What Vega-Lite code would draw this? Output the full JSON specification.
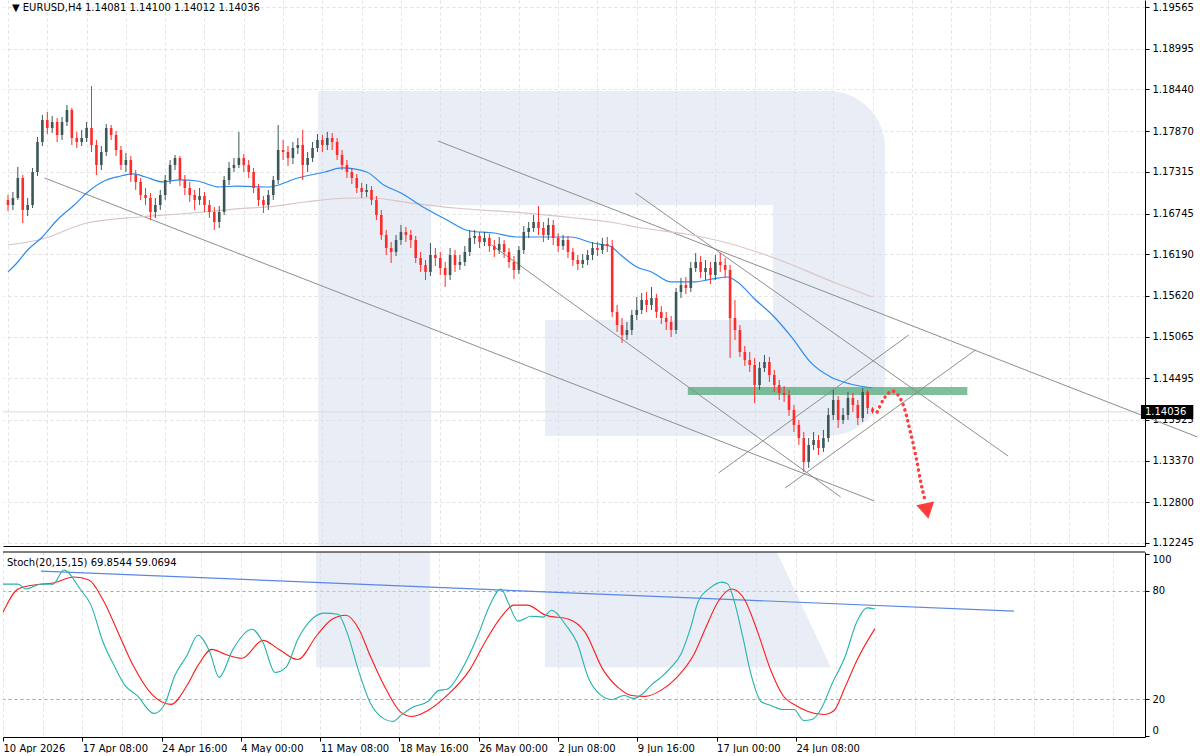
{
  "$schema": "https://vega.github.io/schema/vega-lite/v6.json",
  "padding": 0,
  "background": "white",
  "spacing": 3,
  "config": {
    "view": {"stroke": null},
    "axis": {"labelFont": "DejaVu Sans", "labelFontSize": 10, "labelColor": "#000", "domainColor": "#000", "tickColor": "#000", "gridColor": "#e2e2e2", "gridDash": [3, 3], "labelOverlap": false, "labelBound": false},
    "text": {"font": "DejaVu Sans", "fontSize": 10}
  },
  "datasets": {
    "wm": [
      {"part": "top", "x": 126.3, "x2": 357.1, "y": 1.18418, "y2": 1.16861},
      {"part": "mid", "x": 126.3, "x2": 172.3, "y": 1.16861, "y2": 1.12204},
      {"part": "mid", "x": 311.5, "x2": 357.1, "y": 1.16861, "y2": 1.15291},
      {"part": "bot", "x": 218.7, "x2": 357.1, "y": 1.15291, "y2": 1.13706}
    ],
    "wm2": [{"x": 126.3, "x2": 172.3, "y": 37.7, "y2": 101.3}],
    "leg": [{"v": 37.7, "x": 218.7, "x2": 334.1}, {"v": 101.3, "x": 218.7, "x2": 312.3}],
    "trend": [
      {"x": 14.9, "y": 1.1723, "x2": 352.7, "y2": 1.12819},
      {"x": 175.1, "y": 1.17735, "x2": 484.3, "y2": 1.13693},
      {"x": 255.4, "y": 1.17025, "x2": 407.2, "y2": 1.13433},
      {"x": 196.9, "y": 1.16315, "x2": 339.0, "y2": 1.12874},
      {"x": 289.3, "y": 1.13201, "x2": 366.8, "y2": 1.15086},
      {"x": 316.4, "y": 1.12996, "x2": 393.9, "y2": 1.14881}
    ],
    "arrow": [
      {"i": 353.9, "p": 1.14034}, {"i": 357.1, "p": 1.14239}, {"i": 360.0, "p": 1.14321},
      {"i": 362.4, "p": 1.14266}, {"i": 364.8, "p": 1.14103}, {"i": 367.2, "p": 1.13789},
      {"i": 369.7, "p": 1.1342}, {"i": 371.7, "p": 1.13065}, {"i": 373.3, "p": 1.12833}
    ],
    "ma": [
      {"s": "fast", "i": 0, "p": 1.15947}, {"s": "fast", "i": 4, "p": 1.16083}, {"s": "fast", "i": 8, "p": 1.16247},
      {"s": "fast", "i": 14, "p": 1.16424}, {"s": "fast", "i": 20, "p": 1.16656}, {"s": "fast", "i": 27, "p": 1.16861},
      {"s": "fast", "i": 32, "p": 1.17025}, {"s": "fast", "i": 40, "p": 1.17203}, {"s": "fast", "i": 46, "p": 1.17257},
      {"s": "fast", "i": 51, "p": 1.17285}, {"s": "fast", "i": 56, "p": 1.17244}, {"s": "fast", "i": 63, "p": 1.17176},
      {"s": "fast", "i": 70, "p": 1.17203}, {"s": "fast", "i": 77, "p": 1.17189}, {"s": "fast", "i": 86, "p": 1.17107},
      {"s": "fast", "i": 93, "p": 1.1712}, {"s": "fast", "i": 106, "p": 1.17107}, {"s": "fast", "i": 118, "p": 1.1723},
      {"s": "fast", "i": 129, "p": 1.17312}, {"s": "fast", "i": 136, "p": 1.17367}, {"s": "fast", "i": 146, "p": 1.17312},
      {"s": "fast", "i": 153, "p": 1.17134}, {"s": "fast", "i": 160, "p": 1.17025}, {"s": "fast", "i": 169, "p": 1.16834},
      {"s": "fast", "i": 178, "p": 1.1667}, {"s": "fast", "i": 188, "p": 1.16506}, {"s": "fast", "i": 198, "p": 1.16479},
      {"s": "fast", "i": 207, "p": 1.16424}, {"s": "fast", "i": 218, "p": 1.16424}, {"s": "fast", "i": 229, "p": 1.16424},
      {"s": "fast", "i": 238, "p": 1.16342}, {"s": "fast", "i": 245, "p": 1.16301}, {"s": "fast", "i": 250, "p": 1.16164},
      {"s": "fast", "i": 256, "p": 1.16015}, {"s": "fast", "i": 262, "p": 1.15947}, {"s": "fast", "i": 270, "p": 1.1581},
      {"s": "fast", "i": 279, "p": 1.1581}, {"s": "fast", "i": 287, "p": 1.15851}, {"s": "fast", "i": 293, "p": 1.15878},
      {"s": "fast", "i": 297, "p": 1.1581}, {"s": "fast", "i": 304, "p": 1.15577}, {"s": "fast", "i": 312, "p": 1.15332},
      {"s": "fast", "i": 319, "p": 1.15059}, {"s": "fast", "i": 327, "p": 1.14704}, {"s": "fast", "i": 335, "p": 1.14512},
      {"s": "fast", "i": 343, "p": 1.14417}, {"s": "fast", "i": 352, "p": 1.14362},
      {"s": "slow", "i": 0, "p": 1.16315}, {"s": "slow", "i": 14, "p": 1.16397}, {"s": "slow", "i": 32, "p": 1.16615},
      {"s": "slow", "i": 54, "p": 1.16697}, {"s": "slow", "i": 75, "p": 1.16752}, {"s": "slow", "i": 93, "p": 1.16807},
      {"s": "slow", "i": 109, "p": 1.16847}, {"s": "slow", "i": 121, "p": 1.16902}, {"s": "slow", "i": 140, "p": 1.16957},
      {"s": "slow", "i": 148, "p": 1.16957}, {"s": "slow", "i": 164, "p": 1.16888}, {"s": "slow", "i": 182, "p": 1.1682},
      {"s": "slow", "i": 205, "p": 1.16766}, {"s": "slow", "i": 231, "p": 1.16684}, {"s": "slow", "i": 245, "p": 1.16629},
      {"s": "slow", "i": 258, "p": 1.16547}, {"s": "slow", "i": 276, "p": 1.16465}, {"s": "slow", "i": 293, "p": 1.16342},
      {"s": "slow", "i": 312, "p": 1.16137}, {"s": "slow", "i": 337, "p": 1.15796}, {"s": "slow", "i": 352, "p": 1.15605}
    ],
    "bars": [
      {"i":0,"o":1.1693,"h":1.16998,"l":1.16779,"c":1.16861},
      {"i":2,"o":1.16861,"h":1.17039,"l":1.16793,"c":1.16957},
      {"i":4,"o":1.16957,"h":1.17381,"l":1.1693,"c":1.1723},
      {"i":6,"o":1.1723,"h":1.17271,"l":1.16615,"c":1.16793},
      {"i":8,"o":1.16793,"h":1.16957,"l":1.16711,"c":1.16861},
      {"i":10,"o":1.16861,"h":1.17367,"l":1.1682,"c":1.17312},
      {"i":12,"o":1.17312,"h":1.1779,"l":1.17257,"c":1.17722},
      {"i":14,"o":1.17722,"h":1.1809,"l":1.17667,"c":1.18022},
      {"i":16,"o":1.18022,"h":1.18132,"l":1.17831,"c":1.17913},
      {"i":18,"o":1.17913,"h":1.18076,"l":1.17845,"c":1.17995},
      {"i":20,"o":1.17995,"h":1.18049,"l":1.17722,"c":1.17817},
      {"i":22,"o":1.17817,"h":1.18063,"l":1.17749,"c":1.17995},
      {"i":24,"o":1.17995,"h":1.18227,"l":1.1794,"c":1.18159},
      {"i":26,"o":1.18159,"h":1.18186,"l":1.17681,"c":1.17776},
      {"i":28,"o":1.17776,"h":1.17859,"l":1.1764,"c":1.17722},
      {"i":30,"o":1.17722,"h":1.17886,"l":1.17667,"c":1.17776},
      {"i":32,"o":1.17776,"h":1.17995,"l":1.17722,"c":1.17913},
      {"i":34,"o":1.17913,"h":1.18486,"l":1.17585,"c":1.17681},
      {"i":36,"o":1.17681,"h":1.17749,"l":1.17271,"c":1.17408},
      {"i":38,"o":1.17408,"h":1.17667,"l":1.17339,"c":1.17585},
      {"i":40,"o":1.17585,"h":1.17967,"l":1.1753,"c":1.17913},
      {"i":42,"o":1.17913,"h":1.17954,"l":1.17749,"c":1.17817},
      {"i":44,"o":1.17817,"h":1.17872,"l":1.1753,"c":1.17612},
      {"i":46,"o":1.17612,"h":1.17667,"l":1.17339,"c":1.17408},
      {"i":48,"o":1.17408,"h":1.17571,"l":1.17312,"c":1.17476},
      {"i":50,"o":1.17476,"h":1.1753,"l":1.17176,"c":1.17271},
      {"i":52,"o":1.17271,"h":1.17339,"l":1.17066,"c":1.17176},
      {"i":54,"o":1.17176,"h":1.1723,"l":1.1693,"c":1.16998},
      {"i":56,"o":1.16998,"h":1.17093,"l":1.16861,"c":1.16957},
      {"i":58,"o":1.16957,"h":1.17025,"l":1.16656,"c":1.16766},
      {"i":60,"o":1.16766,"h":1.16957,"l":1.16684,"c":1.16861},
      {"i":62,"o":1.16861,"h":1.17066,"l":1.16793,"c":1.16998},
      {"i":64,"o":1.16998,"h":1.17271,"l":1.1693,"c":1.17203},
      {"i":66,"o":1.17203,"h":1.17476,"l":1.17148,"c":1.17408},
      {"i":68,"o":1.17408,"h":1.17544,"l":1.17339,"c":1.17503},
      {"i":70,"o":1.17503,"h":1.1753,"l":1.1712,"c":1.17203},
      {"i":72,"o":1.17203,"h":1.17271,"l":1.16998,"c":1.17093},
      {"i":74,"o":1.17093,"h":1.17176,"l":1.16903,"c":1.16998},
      {"i":76,"o":1.16998,"h":1.17066,"l":1.16793,"c":1.1693},
      {"i":78,"o":1.1693,"h":1.17093,"l":1.16861,"c":1.16984},
      {"i":80,"o":1.16984,"h":1.17039,"l":1.16766,"c":1.16861},
      {"i":82,"o":1.16861,"h":1.1693,"l":1.16684,"c":1.16766},
      {"i":84,"o":1.16766,"h":1.16834,"l":1.1652,"c":1.16629},
      {"i":86,"o":1.16629,"h":1.16847,"l":1.16547,"c":1.16766},
      {"i":88,"o":1.16766,"h":1.17257,"l":1.16725,"c":1.17203},
      {"i":90,"o":1.17203,"h":1.17449,"l":1.17134,"c":1.17367},
      {"i":92,"o":1.17367,"h":1.17503,"l":1.17312,"c":1.17408},
      {"i":94,"o":1.17408,"h":1.17859,"l":1.17367,"c":1.17503},
      {"i":96,"o":1.17503,"h":1.17558,"l":1.17312,"c":1.17408},
      {"i":98,"o":1.17408,"h":1.17476,"l":1.1723,"c":1.17312},
      {"i":100,"o":1.17312,"h":1.17367,"l":1.17025,"c":1.17093},
      {"i":102,"o":1.17093,"h":1.17148,"l":1.16847,"c":1.1693},
      {"i":104,"o":1.1693,"h":1.16984,"l":1.16752,"c":1.16861},
      {"i":106,"o":1.16861,"h":1.17066,"l":1.16793,"c":1.16998},
      {"i":108,"o":1.16998,"h":1.17257,"l":1.1693,"c":1.17203},
      {"i":110,"o":1.17203,"h":1.17954,"l":1.17148,"c":1.17612},
      {"i":112,"o":1.17612,"h":1.17749,"l":1.17476,"c":1.17585},
      {"i":114,"o":1.17585,"h":1.17667,"l":1.17394,"c":1.17503},
      {"i":116,"o":1.17503,"h":1.17722,"l":1.17421,"c":1.1764},
      {"i":118,"o":1.1764,"h":1.17776,"l":1.17557,"c":1.17681},
      {"i":120,"o":1.17681,"h":1.17886,"l":1.17203,"c":1.17408},
      {"i":122,"o":1.17408,"h":1.17585,"l":1.17312,"c":1.17503},
      {"i":124,"o":1.17503,"h":1.17722,"l":1.17449,"c":1.1764},
      {"i":126,"o":1.1764,"h":1.17831,"l":1.17585,"c":1.17749},
      {"i":128,"o":1.17749,"h":1.17817,"l":1.17585,"c":1.17681},
      {"i":130,"o":1.17681,"h":1.17859,"l":1.17612,"c":1.17776},
      {"i":132,"o":1.17776,"h":1.17845,"l":1.17612,"c":1.17722},
      {"i":134,"o":1.17722,"h":1.17776,"l":1.17476,"c":1.17544},
      {"i":136,"o":1.17544,"h":1.17612,"l":1.17339,"c":1.17408},
      {"i":138,"o":1.17408,"h":1.17476,"l":1.1723,"c":1.17312},
      {"i":140,"o":1.17312,"h":1.17367,"l":1.17148,"c":1.1723},
      {"i":142,"o":1.1723,"h":1.17285,"l":1.17025,"c":1.17093},
      {"i":144,"o":1.17093,"h":1.17162,"l":1.16957,"c":1.17039},
      {"i":146,"o":1.17039,"h":1.17148,"l":1.16971,"c":1.17066},
      {"i":148,"o":1.17066,"h":1.1712,"l":1.16861,"c":1.1693},
      {"i":150,"o":1.1693,"h":1.16984,"l":1.16656,"c":1.16725},
      {"i":152,"o":1.16725,"h":1.16793,"l":1.16383,"c":1.16452},
      {"i":154,"o":1.16452,"h":1.1652,"l":1.16178,"c":1.16274},
      {"i":156,"o":1.16274,"h":1.16356,"l":1.16069,"c":1.1622},
      {"i":158,"o":1.1622,"h":1.16452,"l":1.16164,"c":1.16383},
      {"i":160,"o":1.16383,"h":1.16588,"l":1.16315,"c":1.16493},
      {"i":162,"o":1.16493,"h":1.16561,"l":1.16356,"c":1.16452},
      {"i":164,"o":1.16452,"h":1.1652,"l":1.16274,"c":1.16383},
      {"i":166,"o":1.16383,"h":1.16438,"l":1.16069,"c":1.16137},
      {"i":168,"o":1.16137,"h":1.1622,"l":1.15947,"c":1.16042},
      {"i":170,"o":1.16042,"h":1.1611,"l":1.15837,"c":1.15947},
      {"i":172,"o":1.15947,"h":1.16342,"l":1.15892,"c":1.16178},
      {"i":174,"o":1.16178,"h":1.16274,"l":1.16028,"c":1.16137},
      {"i":176,"o":1.16137,"h":1.1622,"l":1.15905,"c":1.16001},
      {"i":178,"o":1.16001,"h":1.16083,"l":1.15742,"c":1.15905},
      {"i":180,"o":1.15905,"h":1.16274,"l":1.15837,"c":1.16178},
      {"i":182,"o":1.16178,"h":1.16247,"l":1.15947,"c":1.16042},
      {"i":184,"o":1.16042,"h":1.16178,"l":1.15974,"c":1.16083},
      {"i":186,"o":1.16083,"h":1.16301,"l":1.16028,"c":1.1622},
      {"i":188,"o":1.1622,"h":1.1652,"l":1.16164,"c":1.16411},
      {"i":190,"o":1.16411,"h":1.1652,"l":1.16329,"c":1.16438},
      {"i":192,"o":1.16438,"h":1.16493,"l":1.16274,"c":1.16356},
      {"i":194,"o":1.16356,"h":1.16493,"l":1.16301,"c":1.16411},
      {"i":196,"o":1.16411,"h":1.16466,"l":1.1622,"c":1.16301},
      {"i":198,"o":1.16301,"h":1.16383,"l":1.16151,"c":1.16247},
      {"i":200,"o":1.16247,"h":1.16425,"l":1.16192,"c":1.16329},
      {"i":202,"o":1.16329,"h":1.16383,"l":1.16137,"c":1.1622},
      {"i":204,"o":1.1622,"h":1.16274,"l":1.16001,"c":1.16083},
      {"i":206,"o":1.16083,"h":1.16164,"l":1.15851,"c":1.15974},
      {"i":208,"o":1.15974,"h":1.16301,"l":1.15919,"c":1.16247},
      {"i":210,"o":1.16247,"h":1.16574,"l":1.16192,"c":1.16493},
      {"i":212,"o":1.16493,"h":1.16629,"l":1.16411,"c":1.16547},
      {"i":214,"o":1.16547,"h":1.16725,"l":1.16493,"c":1.16629},
      {"i":216,"o":1.16629,"h":1.16847,"l":1.16452,"c":1.16547},
      {"i":218,"o":1.16547,"h":1.16629,"l":1.16356,"c":1.16452},
      {"i":220,"o":1.16452,"h":1.16684,"l":1.16383,"c":1.16588},
      {"i":222,"o":1.16588,"h":1.16656,"l":1.16315,"c":1.16411},
      {"i":224,"o":1.16411,"h":1.16479,"l":1.1622,"c":1.16301},
      {"i":226,"o":1.16301,"h":1.16452,"l":1.16247,"c":1.16383},
      {"i":228,"o":1.16383,"h":1.16438,"l":1.16137,"c":1.1622},
      {"i":230,"o":1.1622,"h":1.16274,"l":1.16028,"c":1.1611},
      {"i":232,"o":1.1611,"h":1.16178,"l":1.15974,"c":1.16055},
      {"i":234,"o":1.16055,"h":1.16192,"l":1.16001,"c":1.1611},
      {"i":236,"o":1.1611,"h":1.16247,"l":1.16042,"c":1.16178},
      {"i":238,"o":1.16178,"h":1.16356,"l":1.1611,"c":1.16274},
      {"i":240,"o":1.16274,"h":1.16356,"l":1.16164,"c":1.16247},
      {"i":242,"o":1.16247,"h":1.16411,"l":1.16192,"c":1.16329},
      {"i":244,"o":1.16329,"h":1.16425,"l":1.1622,"c":1.16301},
      {"i":246,"o":1.16301,"h":1.16383,"l":1.15332,"c":1.154},
      {"i":248,"o":1.154,"h":1.15496,"l":1.15127,"c":1.15222},
      {"i":250,"o":1.15222,"h":1.15318,"l":1.14977,"c":1.15086},
      {"i":252,"o":1.15086,"h":1.15263,"l":1.15018,"c":1.15154},
      {"i":254,"o":1.15154,"h":1.15427,"l":1.15086,"c":1.15359},
      {"i":256,"o":1.15359,"h":1.15605,"l":1.15291,"c":1.15427},
      {"i":258,"o":1.15427,"h":1.15659,"l":1.15372,"c":1.15564},
      {"i":260,"o":1.15564,"h":1.15673,"l":1.154,"c":1.15496},
      {"i":262,"o":1.15496,"h":1.15742,"l":1.15427,"c":1.15591},
      {"i":264,"o":1.15591,"h":1.15646,"l":1.15318,"c":1.154},
      {"i":266,"o":1.154,"h":1.15482,"l":1.15236,"c":1.15318},
      {"i":268,"o":1.15318,"h":1.154,"l":1.15154,"c":1.15263},
      {"i":270,"o":1.15263,"h":1.15345,"l":1.15059,"c":1.15154},
      {"i":272,"o":1.15154,"h":1.15728,"l":1.15099,"c":1.15673},
      {"i":274,"o":1.15673,"h":1.15864,"l":1.15591,"c":1.15769},
      {"i":276,"o":1.15769,"h":1.15878,"l":1.15646,"c":1.15728},
      {"i":278,"o":1.15728,"h":1.16083,"l":1.15673,"c":1.16001},
      {"i":280,"o":1.16001,"h":1.16206,"l":1.15947,"c":1.16083},
      {"i":282,"o":1.16083,"h":1.16164,"l":1.15864,"c":1.15947},
      {"i":284,"o":1.15947,"h":1.1611,"l":1.15837,"c":1.16001},
      {"i":286,"o":1.16001,"h":1.16083,"l":1.15782,"c":1.15905},
      {"i":288,"o":1.15905,"h":1.16178,"l":1.15837,"c":1.16083},
      {"i":290,"o":1.16083,"h":1.16206,"l":1.15947,"c":1.16042},
      {"i":292,"o":1.16042,"h":1.16137,"l":1.15864,"c":1.15974},
      {"i":294,"o":1.15974,"h":1.16042,"l":1.14772,"c":1.15318},
      {"i":296,"o":1.15318,"h":1.15564,"l":1.15018,"c":1.15154},
      {"i":298,"o":1.15154,"h":1.15222,"l":1.14786,"c":1.14854},
      {"i":300,"o":1.14854,"h":1.14936,"l":1.14663,"c":1.14744},
      {"i":302,"o":1.14744,"h":1.14854,"l":1.14581,"c":1.14676},
      {"i":304,"o":1.14676,"h":1.14772,"l":1.14157,"c":1.14403},
      {"i":306,"o":1.14403,"h":1.14717,"l":1.14335,"c":1.14635},
      {"i":308,"o":1.14635,"h":1.14813,"l":1.14581,"c":1.14717},
      {"i":310,"o":1.14717,"h":1.14786,"l":1.14444,"c":1.1454},
      {"i":312,"o":1.1454,"h":1.14608,"l":1.14308,"c":1.14403},
      {"i":314,"o":1.14403,"h":1.14471,"l":1.14198,"c":1.14294},
      {"i":316,"o":1.14294,"h":1.14389,"l":1.14171,"c":1.14266},
      {"i":318,"o":1.14266,"h":1.14335,"l":1.1398,"c":1.14062},
      {"i":320,"o":1.14062,"h":1.1413,"l":1.13761,"c":1.13857},
      {"i":322,"o":1.13857,"h":1.13925,"l":1.13584,"c":1.13679},
      {"i":324,"o":1.13679,"h":1.13761,"l":1.13215,"c":1.13352},
      {"i":326,"o":1.13352,"h":1.13679,"l":1.1327,"c":1.13584},
      {"i":328,"o":1.13584,"h":1.13761,"l":1.13515,"c":1.13652},
      {"i":330,"o":1.13652,"h":1.1372,"l":1.13447,"c":1.13543},
      {"i":332,"o":1.13543,"h":1.13789,"l":1.13488,"c":1.13679},
      {"i":334,"o":1.13679,"h":1.14089,"l":1.13625,"c":1.13993},
      {"i":336,"o":1.13993,"h":1.14335,"l":1.13925,"c":1.14198},
      {"i":338,"o":1.14198,"h":1.14253,"l":1.13816,"c":1.13925},
      {"i":340,"o":1.13925,"h":1.14089,"l":1.1387,"c":1.13993},
      {"i":342,"o":1.13993,"h":1.14308,"l":1.13925,"c":1.14226},
      {"i":344,"o":1.14226,"h":1.14294,"l":1.14035,"c":1.1413},
      {"i":346,"o":1.1413,"h":1.14198,"l":1.13857,"c":1.13952},
      {"i":348,"o":1.13952,"h":1.14362,"l":1.13898,"c":1.14308},
      {"i":350,"o":1.14308,"h":1.14335,"l":1.14007,"c":1.14089},
      {"i":352,"o":1.14081,"h":1.141,"l":1.14012,"c":1.14036}
    ],
    "stoch": [
      {"s":"K","i":0,"v":83.6},{"s":"K","i":6.1,"v":83.6},{"s":"K","i":9.3,"v":80.9},{"s":"K","i":15.3,"v":83.6},
      {"s":"K","i":20.2,"v":83.6},{"s":"K","i":24.6,"v":91.4},{"s":"K","i":31.1,"v":80.9},{"s":"K","i":35.5,"v":72.0},
      {"s":"K","i":40.4,"v":51.5},{"s":"K","i":44.8,"v":38.8},{"s":"K","i":49.2,"v":27.8},{"s":"K","i":54.1,"v":22.2},
      {"s":"K","i":60.9,"v":12.3},{"s":"K","i":65.0,"v":16.7},{"s":"K","i":69.4,"v":33.3},{"s":"K","i":74.3,"v":44.4},
      {"s":"K","i":78.7,"v":55.4},{"s":"K","i":83.5,"v":46.0},{"s":"K","i":87.2,"v":32.2},{"s":"K","i":92.8,"v":47.6},
      {"s":"K","i":100.5,"v":58.7},{"s":"K","i":104.9,"v":51.5},{"s":"K","i":109.8,"v":34.9},{"s":"K","i":114.2,"v":37.7},
      {"s":"K","i":119.0,"v":53.2},{"s":"K","i":123.5,"v":62.6},{"s":"K","i":129.5,"v":67.6},{"s":"K","i":135.2,"v":67.0},
      {"s":"K","i":138.8,"v":57.1},{"s":"K","i":143.7,"v":34.9},{"s":"K","i":148.1,"v":18.4},{"s":"K","i":152.9,"v":10.1},
      {"s":"K","i":157.4,"v":7.9},{"s":"K","i":160.6,"v":11.2},{"s":"K","i":165.1,"v":15.6},{"s":"K","i":171.5,"v":18.9},
      {"s":"K","i":175.9,"v":25.0},{"s":"K","i":179.2,"v":25.6},{"s":"K","i":185.2,"v":36.6},{"s":"K","i":191.7,"v":55.4},
      {"s":"K","i":196.1,"v":70.9},{"s":"K","i":201.0,"v":80.9},{"s":"K","i":203.8,"v":73.7},{"s":"K","i":207.8,"v":63.2},
      {"s":"K","i":213.1,"v":65.9},{"s":"K","i":217.9,"v":65.4},{"s":"K","i":221.5,"v":69.2},{"s":"K","i":227.2,"v":60.9},
      {"s":"K","i":231.6,"v":51.5},{"s":"K","i":236.5,"v":31.1},{"s":"K","i":240.9,"v":22.8},{"s":"K","i":245.8,"v":20.0},
      {"s":"K","i":250.6,"v":22.2},{"s":"K","i":254.6,"v":20.6},{"s":"K","i":258.3,"v":23.3},{"s":"K","i":261.5,"v":27.8},
      {"s":"K","i":265.5,"v":32.2},{"s":"K","i":269.6,"v":37.7},{"s":"K","i":273.6,"v":44.9},{"s":"K","i":277.2,"v":58.2},
      {"s":"K","i":280.5,"v":73.7},{"s":"K","i":285.3,"v":81.4},{"s":"K","i":290.2,"v":84.7},{"s":"K","i":292.6,"v":83.6},
      {"s":"K","i":295.0,"v":74.8},{"s":"K","i":298.6,"v":54.3},{"s":"K","i":301.9,"v":33.8},{"s":"K","i":305.9,"v":18.9},
      {"s":"K","i":309.9,"v":16.7},{"s":"K","i":314.8,"v":14.5},{"s":"K","i":319.2,"v":14.5},{"s":"K","i":323.2,"v":8.4},
      {"s":"K","i":326.5,"v":9.0},{"s":"K","i":330.5,"v":15.6},{"s":"K","i":334.5,"v":28.4},{"s":"K","i":339.8,"v":43.4},
      {"s":"K","i":344.6,"v":62.8},{"s":"K","i":348.7,"v":70.5},{"s":"K","i":351.9,"v":69.85},
      {"s":"D","i":0,"v":68.1},{"s":"D","i":6.1,"v":80.9},{"s":"D","i":12.5,"v":83.1},{"s":"D","i":20.2,"v":84.2},
      {"s":"D","i":28.7,"v":87.5},{"s":"D","i":34.7,"v":85.8},{"s":"D","i":40.4,"v":74.8},{"s":"D","i":46.4,"v":57.1},
      {"s":"D","i":52.5,"v":38.8},{"s":"D","i":60.1,"v":22.8},{"s":"D","i":67.8,"v":17.3},{"s":"D","i":74.3,"v":27.8},
      {"s":"D","i":78.7,"v":38.8},{"s":"D","i":84.3,"v":47.6},{"s":"D","i":89.6,"v":44.9},{"s":"D","i":96.4,"v":42.7},
      {"s":"D","i":104.9,"v":52.6},{"s":"D","i":111.4,"v":47.6},{"s":"D","i":119.0,"v":42.0},{"s":"D","i":126.7,"v":55.4},
      {"s":"D","i":132.8,"v":64.2},{"s":"D","i":138.4,"v":66.4},{"s":"D","i":143.7,"v":58.6},{"s":"D","i":148.1,"v":44.4},
      {"s":"D","i":154.6,"v":25.6},{"s":"D","i":160.6,"v":12.9},{"s":"D","i":165.1,"v":10.6},{"s":"D","i":171.5,"v":13.9},
      {"s":"D","i":179.2,"v":22.2},{"s":"D","i":188.5,"v":36.6},{"s":"D","i":194.5,"v":51.5},{"s":"D","i":201.0,"v":65.4},
      {"s":"D","i":206.2,"v":72.0},{"s":"D","i":211.5,"v":72.0},{"s":"D","i":219.1,"v":66.4},{"s":"D","i":228.4,"v":64.2},
      {"s":"D","i":234.9,"v":57.1},{"s":"D","i":242.1,"v":36.6},{"s":"D","i":248.2,"v":26.7},{"s":"D","i":253.8,"v":22.2},
      {"s":"D","i":259.1,"v":21.7},{"s":"D","i":265.5,"v":25.0},{"s":"D","i":272.0,"v":32.2},{"s":"D","i":278.9,"v":44.9},
      {"s":"D","i":283.7,"v":59.8},{"s":"D","i":288.5,"v":73.7},{"s":"D","i":294.2,"v":80.9},{"s":"D","i":299.4,"v":74.8},
      {"s":"D","i":304.3,"v":58.2},{"s":"D","i":309.9,"v":36.0},{"s":"D","i":314.8,"v":22.2},{"s":"D","i":320.0,"v":16.7},
      {"s":"D","i":324.9,"v":13.4},{"s":"D","i":331.3,"v":11.7},{"s":"D","i":335.4,"v":13.9},{"s":"D","i":339.8,"v":26.6},
      {"s":"D","i":344.6,"v":41.5},{"s":"D","i":351.9,"v":59.07}
    ]
  },
  "vconcat": [
    {
      "width": 1142,
      "height": 546,
      "layer": [
        {
          "data": {"name": "wm"},
          "transform": [{"filter": "datum.part == 'top'"}],
          "mark": {"type": "rect", "color": "#d3dcec", "opacity": 0.5, "cornerRadiusTopRight": 114},
          "encoding": {
            "x": {"field": "x", "type": "quantitative", "scale": {"domain": [0, 460.9], "nice": false, "zero": false},
              "axis": {"title": null, "orient": "bottom", "values": [0,16,32,48,64,80,96,112,128,144,160,176,192,208,224,240,256,272,288,304,320,336,352,368,384,400,416,432,448], "labels": false, "ticks": false, "grid": true}},
            "x2": {"field": "x2"},
            "y": {"field": "y", "type": "quantitative", "scale": {"domain": [1.12204, 1.19661], "nice": false, "zero": false},
              "axis": {"title": null, "orient": "right", "values": [1.19565,1.18995,1.1844,1.1787,1.17315,1.16745,1.1619,1.1562,1.15065,1.14495,1.13925,1.1337,1.128,1.12245], "format": ".5f", "tickSize": 4, "labelPadding": 3, "grid": true}},
            "y2": {"field": "y2"}
          }
        },
        {
          "data": {"name": "wm"},
          "transform": [{"filter": "datum.part == 'mid'"}],
          "mark": {"type": "rect", "color": "#d3dcec", "opacity": 0.5},
          "encoding": {"x": {"field": "x", "type": "quantitative"}, "x2": {"field": "x2"}, "y": {"field": "y", "type": "quantitative"}, "y2": {"field": "y2"}}
        },
        {
          "data": {"name": "wm"},
          "transform": [{"filter": "datum.part == 'bot'"}],
          "mark": {"type": "rect", "color": "#d3dcec", "opacity": 0.5, "cornerRadiusBottomRight": 95},
          "encoding": {"x": {"field": "x", "type": "quantitative"}, "x2": {"field": "x2"}, "y": {"field": "y", "type": "quantitative"}, "y2": {"field": "y2"}}
        },
        {
          "data": {"values": [{}]},
          "mark": {"type": "rule", "color": "#dadada", "strokeWidth": 1},
          "encoding": {"y": {"datum": 1.14036}}
        },
        {
          "data": {"values": [{}]},
          "mark": {"type": "rect", "color": "#4ea775", "opacity": 0.72},
          "encoding": {"x": {"datum": 276.8}, "x2": {"datum": 390.6}, "y": {"datum": 1.14376}, "y2": {"datum": 1.14266}}
        },
        {
          "data": {"name": "trend"},
          "mark": {"type": "rule", "color": "#8e8e8e", "strokeWidth": 1},
          "encoding": {"x": {"field": "x", "type": "quantitative"}, "x2": {"field": "x2"}, "y": {"field": "y", "type": "quantitative"}, "y2": {"field": "y2"}}
        },
        {
          "data": {"name": "ma"},
          "transform": [{"filter": "datum.s == 'slow'"}],
          "mark": {"type": "line", "interpolate": "monotone", "strokeWidth": 1.2, "color": "#dbc4c4"},
          "encoding": {"x": {"field": "i", "type": "quantitative"}, "y": {"field": "p", "type": "quantitative"}}
        },
        {
          "data": {"name": "ma"},
          "transform": [{"filter": "datum.s == 'fast'"}],
          "mark": {"type": "line", "interpolate": "monotone", "strokeWidth": 1.2, "color": "#2a8cf0"},
          "encoding": {"x": {"field": "i", "type": "quantitative"}, "y": {"field": "p", "type": "quantitative"}}
        },
        {
          "data": {"name": "bars"},
          "mark": {"type": "rule", "strokeWidth": 1},
          "encoding": {
            "x": {"field": "i", "type": "quantitative"},
            "y": {"field": "l", "type": "quantitative"},
            "y2": {"field": "h"},
            "color": {"condition": {"test": "datum.c < datum.o", "value": "#ff2a2a"}, "value": "#3b5757"}
          }
        },
        {
          "data": {"name": "bars"},
          "mark": {"type": "bar", "width": 2.6},
          "encoding": {
            "x": {"field": "i", "type": "quantitative"},
            "y": {"field": "o", "type": "quantitative"},
            "y2": {"field": "c"},
            "color": {"condition": {"test": "datum.c < datum.o", "value": "#ff2a2a"}, "value": "#3b5757"}
          }
        },
        {
          "data": {"name": "arrow"},
          "mark": {"type": "line", "interpolate": "monotone", "color": "#ff3b3b", "strokeWidth": 3.5, "strokeDash": [0.1, 5.5], "strokeCap": "round"},
          "encoding": {"x": {"field": "i", "type": "quantitative"}, "y": {"field": "p", "type": "quantitative"}}
        },
        {
          "data": {"values": [{}]},
          "mark": {"type": "point", "shape": "triangle-down", "filled": true, "size": 330, "angle": -12, "color": "#ff3b3b", "opacity": 1},
          "encoding": {"x": {"datum": 374.1}, "y": {"datum": 1.12682}}
        },
        {
          "data": {"values": [{}]},
          "mark": {"type": "rect", "color": "#000"},
          "encoding": {"x": {"datum": 461.3}, "x2": {"datum": 482.6}, "y": {"datum": 1.1413}, "y2": {"datum": 1.13939}}
        },
        {
          "data": {"values": [{}]},
          "mark": {"type": "text", "align": "left", "baseline": "middle", "color": "#fff", "fontSize": 10},
          "encoding": {"x": {"datum": 462.9}, "y": {"datum": 1.14036}, "text": {"value": "1.14036"}}
        },
        {
          "data": {"values": [{}]},
          "mark": {"type": "text", "align": "left", "baseline": "middle", "color": "#000", "fontSize": 10},
          "encoding": {"x": {"datum": 1.6}, "y": {"datum": 1.19552}, "text": {"value": "▼ EURUSD,H4  1.14081 1.14100 1.14012 1.14036"}}
        }
      ]
    },
    {
      "width": 1142,
      "height": 185,
      "layer": [
        {
          "data": {"name": "wm2"},
          "mark": {"type": "rect", "color": "#d3dcec", "opacity": 0.5},
          "encoding": {
            "x": {"field": "x", "type": "quantitative", "scale": {"domain": [0, 460.9], "nice": false, "zero": false},
              "axis": {"title": null, "orient": "bottom", "values": [0,16,32,48,64,80,96,112,128,144,160,176,192,208,224,240,256,272,288,304,320,336,352,368,384,400,416,432,448], "grid": true, "tickSize": 4, "labelAlign": "left", "labelPadding": 2, "labelFlush": false,
                "tickOpacity": {"condition": {"test": "datum.value % 32 == 0 && datum.value <= 320", "value": 1}, "value": 0},
                "labelExpr": "datum.value % 32 == 0 && datum.value <= 320 ? ['10 Apr 2026','17 Apr 08:00','24 Apr 16:00','4 May 00:00','11 May 08:00','18 May 16:00','26 May 00:00','2 Jun 08:00','9 Jun 16:00','17 Jun 00:00','24 Jun 08:00'][datum.value / 32] : ''"}},
            "x2": {"field": "x2"},
            "y": {"field": "y", "type": "quantitative", "scale": {"domain": [-0.7, 101.3], "nice": false, "zero": false},
              "axis": {"title": null, "orient": "right", "values": [0, 20, 80, 100], "tickSize": 4, "labelPadding": 3, "labelFlush": 5, "grid": true, "gridColor": "#a6a6a6",
                "gridOpacity": {"condition": {"test": "datum.value == 20 || datum.value == 80", "value": 1}, "value": 0}}},
            "y2": {"field": "y2"}
          }
        },
        {
          "data": {"name": "leg"},
          "mark": {"type": "area", "orient": "horizontal", "color": "#d3dcec", "opacity": 0.5},
          "encoding": {"y": {"field": "v", "type": "quantitative"}, "x": {"field": "x", "type": "quantitative"}, "x2": {"field": "x2"}}
        },
        {
          "data": {"values": [{}]},
          "mark": {"type": "rule", "color": "#000", "strokeWidth": 1},
          "encoding": {"y": {"datum": 101.3}}
        },
        {
          "data": {"values": [{}]},
          "mark": {"type": "rule", "color": "#5b86e5", "strokeWidth": 1.2},
          "encoding": {"x": {"datum": 15.3}, "x2": {"datum": 408}, "y": {"datum": 90.8}, "y2": {"datum": 68.7}}
        },
        {
          "data": {"name": "stoch"},
          "transform": [{"filter": "datum.s == 'D'"}],
          "mark": {"type": "line", "interpolate": "monotone", "strokeWidth": 1.1, "color": "#ff1a1a"},
          "encoding": {"x": {"field": "i", "type": "quantitative"}, "y": {"field": "v", "type": "quantitative"}}
        },
        {
          "data": {"name": "stoch"},
          "transform": [{"filter": "datum.s == 'K'"}],
          "mark": {"type": "line", "interpolate": "monotone", "strokeWidth": 1.1, "color": "#25b3a9"},
          "encoding": {"x": {"field": "i", "type": "quantitative"}, "y": {"field": "v", "type": "quantitative"}}
        },
        {
          "data": {"values": [{}]},
          "mark": {"type": "text", "align": "left", "baseline": "middle", "color": "#000", "fontSize": 10},
          "encoding": {"x": {"datum": 1.6}, "y": {"datum": 95.2}, "text": {"value": "Stoch(20,15,15) 69.8544 59.0694"}}
        }
      ]
    }
  ]
}
